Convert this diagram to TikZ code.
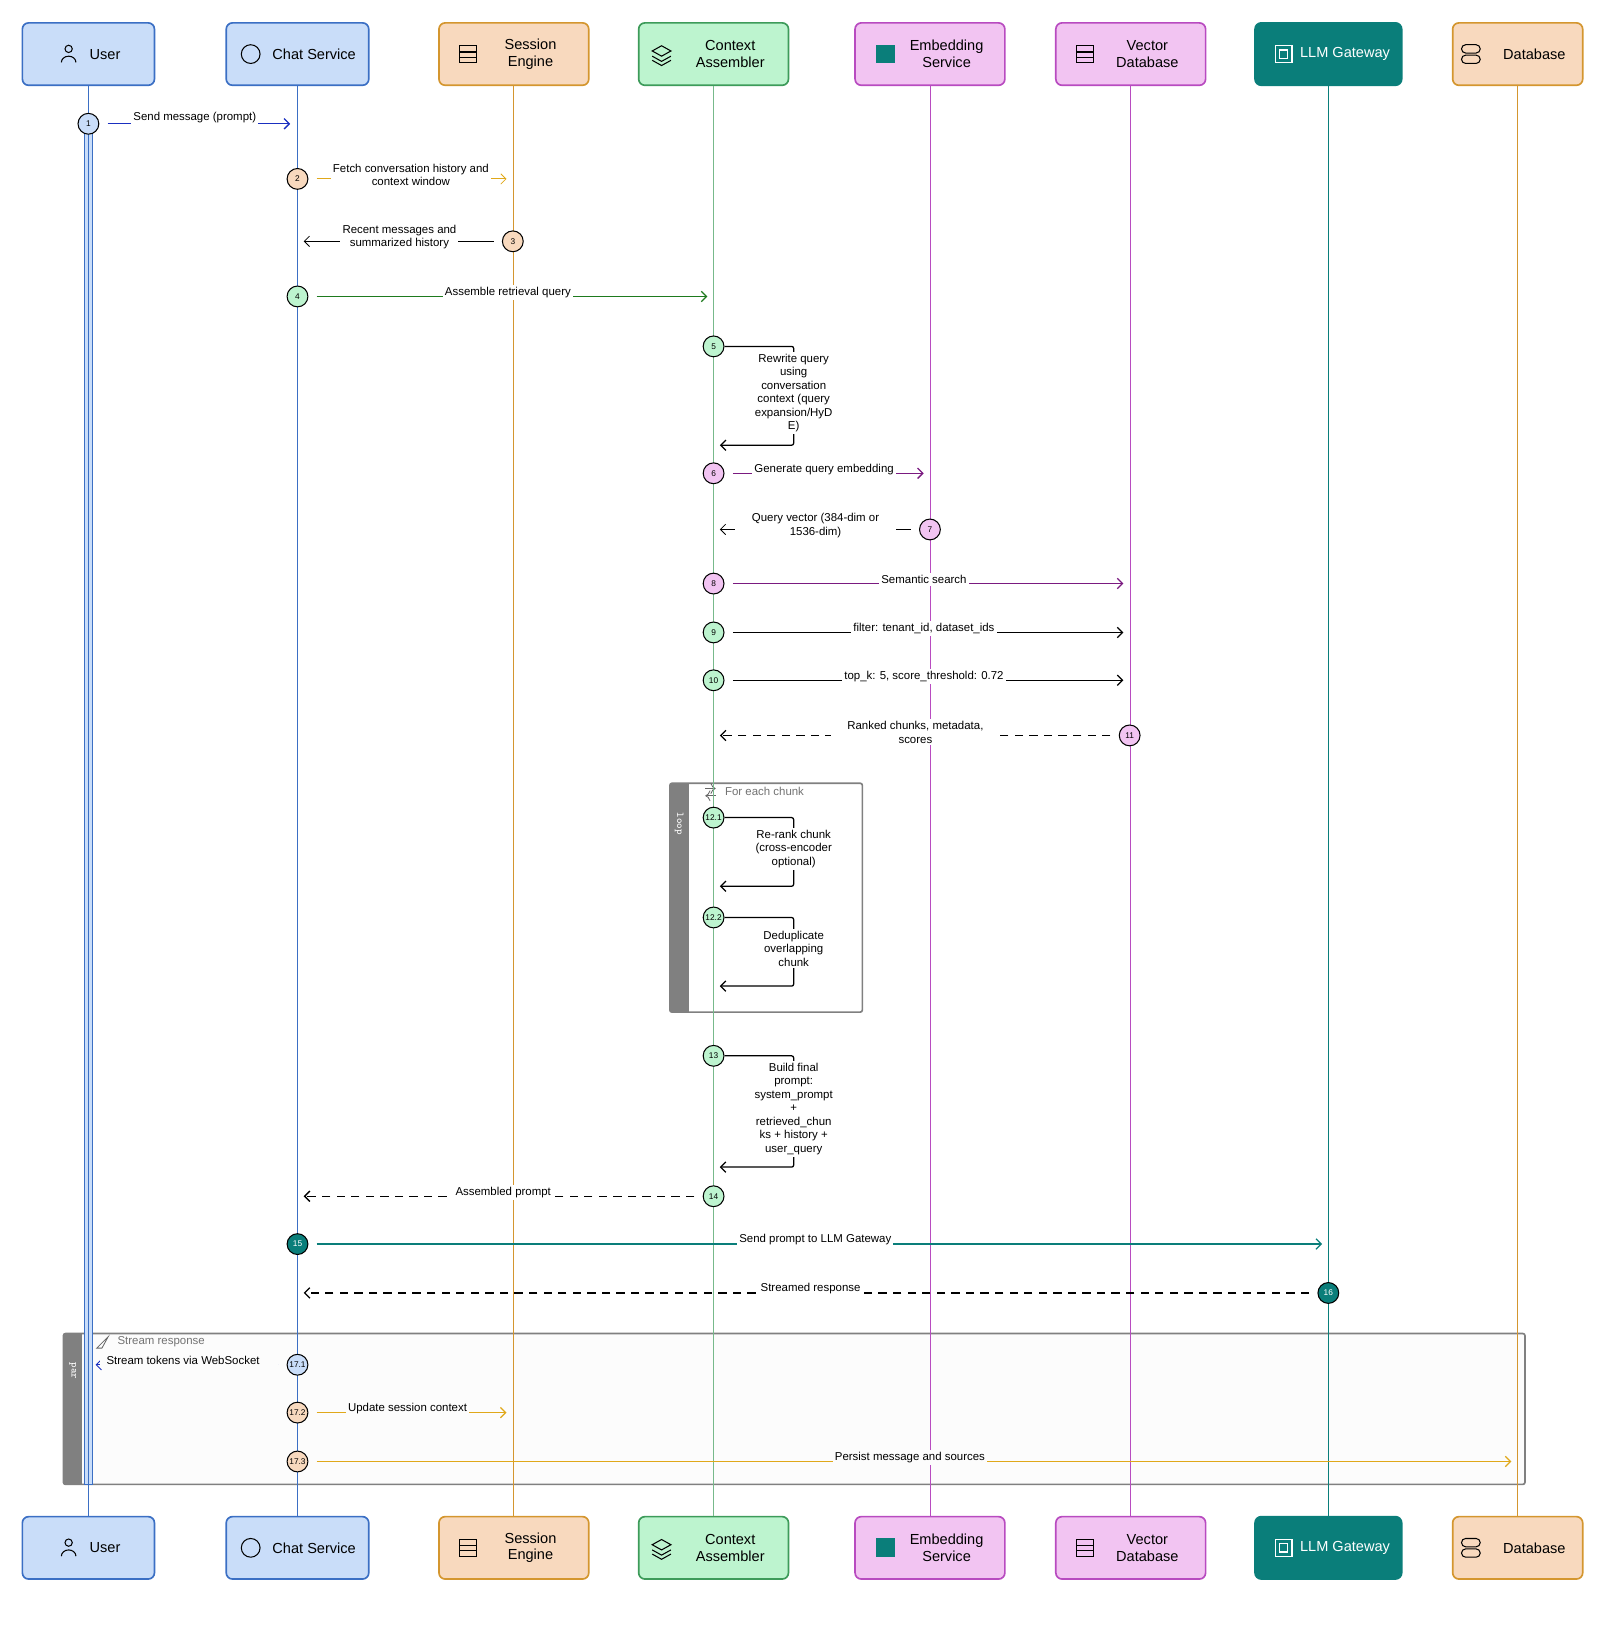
\documentclass[tikz,border=0pt]{standalone}
\usepackage{fontspec}
\setmainfont{Liberation Sans}
\usetikzlibrary{arrows.meta}
\definecolor{bluefill}{HTML}{C9DDF9}
\definecolor{blueline}{HTML}{3B6FC4}
\definecolor{orafill}{HTML}{F8D9BE}
\definecolor{oraline}{HTML}{D4962F}
\definecolor{grnfill}{HTML}{BDF4CF}
\definecolor{grnline}{HTML}{3D9B5A}
\definecolor{pnkfill}{HTML}{F2C4F2}
\definecolor{pnkline}{HTML}{B84BC0}
\definecolor{teal}{HTML}{0A7E7A}
\definecolor{msgblue}{HTML}{1A2FC0}
\definecolor{msgyel}{HTML}{E0A81A}
\definecolor{msggrn}{HTML}{1E7A1E}
\definecolor{msgpur}{HTML}{7A1A80}
\definecolor{framegray}{HTML}{808080}
\tikzset{
  actor/.style={draw, rounded corners=3pt, line width=0.8pt, minimum height=30pt},
  actorlbl/.style={font=\fontsize{7}{8}\selectfont, align=center, xshift=8pt},
  num/.style={circle, draw=black, line width=0.5pt, minimum size=10pt, inner sep=0pt, font=\fontsize{4}{4}\selectfont},
  msg/.style={font=\fontsize{5.5}{6.5}\selectfont, align=center, fill=white, inner sep=1pt, text=black},
  call/.style={-{Straight Barb[length=2.5pt]}, line width=0.6pt, shorten <=4pt},
  reply/.style={-{Straight Barb[length=2.5pt]}, line width=0.6pt, dash pattern=on 4pt off 3pt, shorten <=4pt},
  selfcall/.style={-{Straight Barb[length=2.5pt]}, line width=0.6pt, rounded corners=1pt},
  frame/.style={draw=framegray, line width=0.8pt, fill=black!1, rounded corners=1pt},
}
\begin{document}
\begin{tikzpicture}[x=0.5pt, y=-0.5pt]
\useasboundingbox (0,0) rectangle (1538,1567);
% Frames
    \draw[frame] (61,1282) rectangle (1466,1427);
    \fill[framegray] (61,1282) rectangle (79,1427);
    \node[rotate=-90, white, font=\ttfamily\fontsize{5}{5}\selectfont] (parlbl) at (70,1318) {par};
    \node[anchor=west, text=black!55, font=\fontsize{5.5}{6}\selectfont] (partitle) at (106,1290) {Stream response};
    \draw[black!60, line width=0.4pt] (93,1296) -- (104,1285) -- (98,1296) -- cycle;
    \draw[frame, fill=white] (644,753) rectangle (829,973);
    \fill[framegray] (644,753) rectangle (662,973);
    \node[rotate=-90, white, font=\ttfamily\fontsize{5}{5}\selectfont] (looplbl) at (653,792) {loop};
    \node[anchor=west, text=black!55, font=\fontsize{5.5}{6}\selectfont] (looptitle) at (690,761) {For each chunk};
    \draw[black!60, line width=0.4pt, ->] (678,758) -- (688,758);
    \draw[black!60, line width=0.4pt, <-] (678,765) -- (688,765);
% Activation on User
    \fill[bluefill] (81,128) rectangle (89,1427);
    \draw[blueline, line width=0.3pt] (81,128) rectangle (89,1427);
% Participants
\foreach \nm/\x/\w/\fc/\lc/\tc/\txt in {
    user/85/127/bluefill/blueline/black/User,
    chat/286/137/bluefill/blueline/black/Chat Service,
    sess/494/144/orafill/oraline/black/Session\\Engine,
    ctx/686/144/grnfill/grnline/black/Context\\Assembler,
    emb/894/144/pnkfill/pnkline/black/Embedding\\Service,
    vec/1087/144/pnkfill/pnkline/black/Vector\\Database,
    llm/1277/141/teal/teal/white/LLM Gateway,
    db/1459/125/orafill/oraline/black/Database} {
    \node[actor, fill=\fc, draw=\lc, minimum width=\w*0.5pt] (\nm T) at (\x,52) {};
    \node[actorlbl, text=\tc] (\nm Tl) at (\nm T.center) {\txt};
    \node[actor, fill=\fc, draw=\lc, minimum width=\w*0.5pt] (\nm B) at (\x,1488) {};
    \node[actorlbl, text=\tc] (\nm Bl) at (\nm B.center) {\txt};
}
% Lifelines
    \draw[blueline, line width=0.4pt] (userT) -- (userB);
    \draw[blueline, line width=0.4pt] (chatT) -- (chatB);
    \draw[oraline, line width=0.4pt] (sessT) -- (sessB);
    \draw[grnline!70, line width=0.4pt] (ctxT) -- (ctxB);
    \draw[pnkline, line width=0.4pt] (embT) -- (embB);
    \draw[pnkline, line width=0.4pt] (vecT) -- (vecB);
    \draw[teal, line width=0.8pt] (llmT) -- (llmB);
    \draw[oraline, line width=0.4pt] (dbT) -- (dbB);
% Icons
\foreach \nm/\x/\ic in {user/85/0, chat/286/1, sess/494/2, ctx/686/3, emb/894/4, vec/1087/2, llm/1277/5, db/1459/6} {
  \foreach \y in {52,1488} {
    \begin{scope}[shift={(\x-50,\y)}]
    \ifcase\ic
      \draw[line width=0.5pt] (31,-5) circle (3.5); \draw[line width=0.5pt] (24,8) arc (180:360:7 and 6);
    \or
      \draw[line width=0.5pt] (5,0) circle (9);
    \or
      \draw[line width=0.5pt] (-2,-8) rectangle (14,8); \draw[line width=0.5pt] (-2,-2) -- (14,-2) (-2,3) -- (14,3);
    \or
      \draw[line width=0.5pt] (0,-8) -- (9,-3) -- (0,2) -- (-9,-3) -- cycle; \draw[line width=0.5pt] (-9,2) -- (0,7) -- (9,2) (-9,6) -- (0,11) -- (9,6);
    \or
      \fill[teal] (-2,-9) rectangle (16,9);
    \or
      \draw[white, line width=0.6pt] (-1,-8) rectangle (15,8); \draw[white, line width=0.6pt] (3,-4) rectangle (11,4);
    \or
      \draw[line width=0.5pt, rounded corners=2pt] (-4,-9) rectangle (14,-1) (-4,1) rectangle (14,9);
    \fi
    \end{scope}
  }
}
% Messages
    \node[num, fill=bluefill] (m1) at (85,119) {1};
    \coordinate (e1) at (279,119);
    \draw[call, msgblue] (m1) -- (e1) node[msg, midway, yshift=3pt] {Send message (prompt)};
    \node[num, fill=orafill] (m2) at (286,172) {2};
    \coordinate (e2) at (487,172);
    \draw[call, msgyel, line width=0.4pt] (m2) -- (e2);
    \node[msg] (t2) at (395,168) {Fetch conversation history and\\context window};
    \node[num, fill=orafill] (m3) at (493,232) {3};
    \coordinate (e3) at (292,232);
    \draw[call, line width=0.4pt] (m3) -- (e3);
    \node[msg] (t3) at (384,228) {Recent messages and\\summarized history};
    \node[num, fill=grnfill] (m4) at (286,285) {4};
    \coordinate (e4) at (680,285);
    \draw[call, msggrn] (m4) -- (e4) node[msg, midway, yshift=2pt] {Assemble retrieval query};
    \node[num, fill=grnfill] (m5) at (686,333) {5};
    \coordinate (e5) at (692,428);
    \draw[selfcall] (m5) -- (763,333) -- (763,428) -- (e5);
    \node[msg] (t5) at (763,378) {Rewrite query\\using\\conversation\\context (query\\expansion/HyD\\E)};
    \node[num, fill=pnkfill] (m6) at (686,455) {6};
    \coordinate (e6) at (888,455);
    \draw[call, msgpur] (m6) -- (e6) node[msg, midway, yshift=2pt] {Generate query embedding};
    \node[num, fill=pnkfill] (m7) at (894,509) {7};
    \coordinate (e7) at (692,509);
    \draw[call, line width=0.4pt] (m7) -- (e7);
    \node[msg, inner xsep=8pt] (t7) at (784,505) {Query vector (384-dim or\\1536-dim)};
    \node[num, fill=pnkfill] (m8) at (686,561) {8};
    \coordinate (e8) at (1080,561);
    \draw[call, msgpur] (m8) -- (e8) node[msg, midway, yshift=2pt] {Semantic search};
    \node[num, fill=grnfill] (m9) at (686,608) {9};
    \coordinate (e9) at (1080,608);
    \draw[call] (m9) -- (e9) node[msg, midway, yshift=2pt] {filter: tenant\_id, dataset\_ids};
    \node[num, fill=grnfill] (m10) at (686,654) {10};
    \coordinate (e10) at (1080,654);
    \draw[call] (m10) -- (e10) node[msg, midway, yshift=2pt] {top\_k: 5, score\_threshold: 0.72};
    \node[num, fill=pnkfill] (m11) at (1086,707) {11};
    \coordinate (e11) at (692,707);
    \draw[reply] (m11) -- (e11);
    \node[msg, inner xsep=8pt] (t11) at (880,704) {Ranked chunks, metadata,\\scores};
    \node[num, fill=grnfill] (m121) at (686,786) {12.1};
    \coordinate (e121) at (692,852);
    \draw[selfcall] (m121) -- (763,786) -- (763,852) -- (e121);
    \node[msg] (t121) at (763,816) {Re-rank chunk\\(cross-encoder\\optional)};
    \node[num, fill=grnfill] (m122) at (686,882) {12.2};
    \coordinate (e122) at (692,948);
    \draw[selfcall] (m122) -- (763,882) -- (763,948) -- (e122);
    \node[msg] (t122) at (763,912) {Deduplicate\\overlapping\\chunk};
    \node[num, fill=grnfill] (m13) at (686,1015) {13};
    \coordinate (e13) at (692,1122);
    \draw[selfcall] (m13) -- (763,1015) -- (763,1122) -- (e13);
    \node[msg] (t13) at (763,1066) {Build final\\prompt:\\system\_prompt\\+\\retrieved\_chun\\ks + history +\\user\_query};
    \node[num, fill=grnfill] (m14) at (686,1150) {14};
    \coordinate (e14) at (292,1150);
    \draw[reply] (m14) -- (e14) node[msg, midway, yshift=2pt] {Assembled prompt};
    \node[num, fill=teal, text=white] (m15) at (286,1196) {15};
    \coordinate (e15) at (1271,1196);
    \draw[call, teal] (m15) -- (e15) node[msg, midway, yshift=2pt] {Send prompt to LLM Gateway};
    \node[num, fill=teal, text=white] (m16) at (1277,1243) {16};
    \coordinate (e16) at (292,1243);
    \draw[reply] (m16) -- (e16) node[msg, midway, yshift=2pt] {Streamed response};
    \node[num, fill=bluefill] (m171) at (286,1312) {17.1};
    \coordinate (e171) at (92,1312);
    \draw[call, msgblue, line width=0.4pt] (m171) -- (e171);
    \node[msg, fill=black!1, anchor=west, inner xsep=3pt] (t171) at (96,1308) {Stream tokens via WebSocket\hspace{6pt}};
    \node[num, fill=orafill] (m172) at (286,1358) {17.2};
    \coordinate (e172) at (487,1358);
    \draw[call, msgyel] (m172) -- (e172) node[msg, midway, yshift=2pt, fill=black!1] {Update session context};
    \node[num, fill=orafill] (m173) at (286,1405) {17.3};
    \coordinate (e173) at (1453,1405);
    \draw[call, msgyel] (m173) -- (e173) node[msg, midway, yshift=2pt, fill=black!1] {Persist message and sources};
\end{tikzpicture}
\end{document}
